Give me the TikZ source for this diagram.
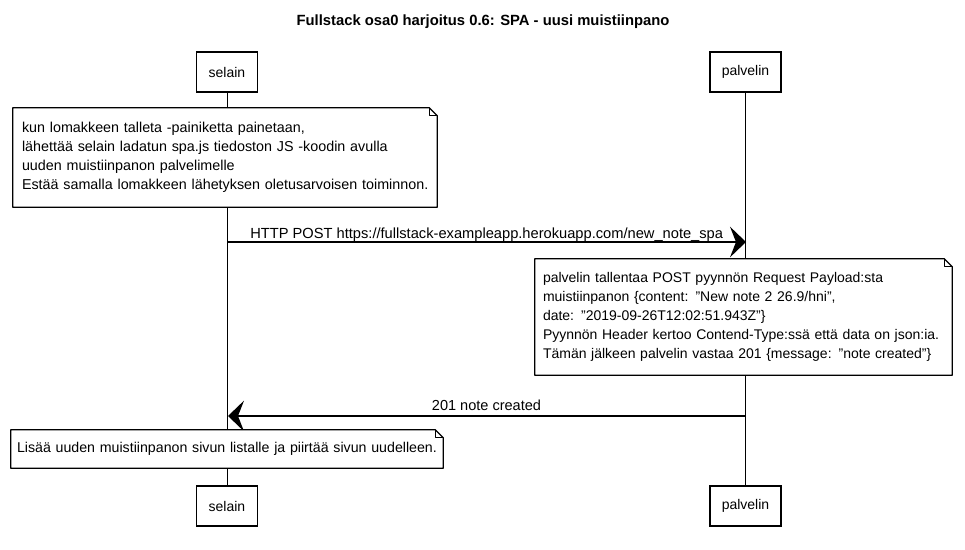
\documentclass[tikz,border=0pt]{standalone}
\usepackage{fontspec}
\setmainfont{Liberation Sans}
\usetikzlibrary{arrows.meta}
\tikzset{
  every node/.style={font=\fontsize{10.5}{14.25}\selectfont},
  participant/.style={draw, line width=0.9pt, fill=white, minimum height=30pt, inner sep=0pt},
  notebox/.style={fill=white, align=left, inner ysep=0pt, minimum height=#1},
  notepath/.style={line width=0.9pt, line join=round},
  lifeline/.style={line width=0.6pt},
  msg/.style={line width=0.9pt, -{Stealth[length=12pt, width=23pt, inset=4.5pt]}},
  msglabel/.style={inner sep=0pt, font=\fontsize{11}{13}\selectfont}
}
\newcommand\drawnote[1]{%
  \draw[notepath] (#1.south west) -- (#1.north west) -- ([xshift=-6pt]#1.north east)
    -- ([yshift=-6pt]#1.north east) -- (#1.south east) -- cycle;
  \draw[notepath, line width=0.6pt] ([xshift=-6pt]#1.north east) -- ([xshift=-6pt,yshift=-6pt]#1.north east)
    -- ([yshift=-6pt]#1.north east);}
\newcommand\qq{\char34\relax}
\begin{document}
\begin{tikzpicture}[x=0.75pt, y=-0.75pt]
\useasboundingbox[fill=white] (0,0) rectangle (965,550);
% title
\node[font=\fontsize{11.1}{13}\selectfont\bfseries, anchor=base] (title) at (483,25) {Fullstack osa0 harjoitus 0.6: SPA - uusi muistiinpano};
% participants
\node[participant, minimum width=45.75pt] (selTop) at (227,72) {selain};
\node[participant, minimum width=53.25pt] (palTop) at (745.5,72) {palvelin};
\node[participant, minimum width=45.75pt] (selBot) at (227,506) {selain};
\node[participant, minimum width=53.25pt] (palBot) at (745.5,506) {palvelin};
% lifelines
\draw[lifeline] (selTop) -- (selBot);
\draw[lifeline] (palTop) -- (palBot);
% note 1
\node[notebox=74.25pt, text width=304.5pt, inner xsep=6.75pt, font=\fontsize{10.75}{14.25}\selectfont] (note1) at (225,157.5)
  {\mbox{kun lomakkeen talleta -painiketta painetaan,}\\
   \mbox{lähettää selain ladatun spa.js tiedoston JS -koodin avulla}\\
   \mbox{uuden muistiinpanon palvelimelle}\\
   \mbox{Estää samalla lomakkeen lähetyksen oletusarvoisen toiminnon.}};
\drawnote{note1}
% message 1
\coordinate (m1s) at (228,242);
\coordinate (m1e) at (746,242);
\draw[msg] (m1s) -- (m1e);
\node[msglabel, anchor=base west] (m1label) at (250,238) {HTTP POST https://fullstack-exampleapp.herokuapp.com/new\_note\_spa};
% note 2
\node[notebox=87pt, text width=300.75pt, inner xsep=6pt] (note2) at (743.5,317)
  {\mbox{palvelin tallentaa POST pyynnön Request Payload:sta}\\
   \mbox{muistiinpanon \{content: \qq New note 2 26.9/hni\qq,}\\
   \mbox{date: \qq 2019-09-26T12:02:51.943Z\qq\}}\\
   \mbox{Pyynnön Header kertoo Contend-Type:ssä että data on json:ia.}\\
   \mbox{Tämän jälkeen palvelin vastaa 201 \{message: \qq note created\qq\}}};
\drawnote{note2}
% message 2
\coordinate (m2s) at (746,416);
\coordinate (m2e) at (228,416);
\draw[msg] (m2s) -- (m2e);
\node[msglabel, anchor=base, font=\fontsize{10.9}{13}\selectfont] (m2label) at (486.5,410) {201 note created};
% note 3
\node[notebox=28.5pt, text width=315pt, inner xsep=4.5pt, font=\fontsize{10.65}{14.25}\selectfont] (note3) at (227,449)
  {\mbox{Lisää uuden muistiinpanon sivun listalle ja piirtää sivun uudelleen.}};
\drawnote{note3}
\end{tikzpicture}
\end{document}
